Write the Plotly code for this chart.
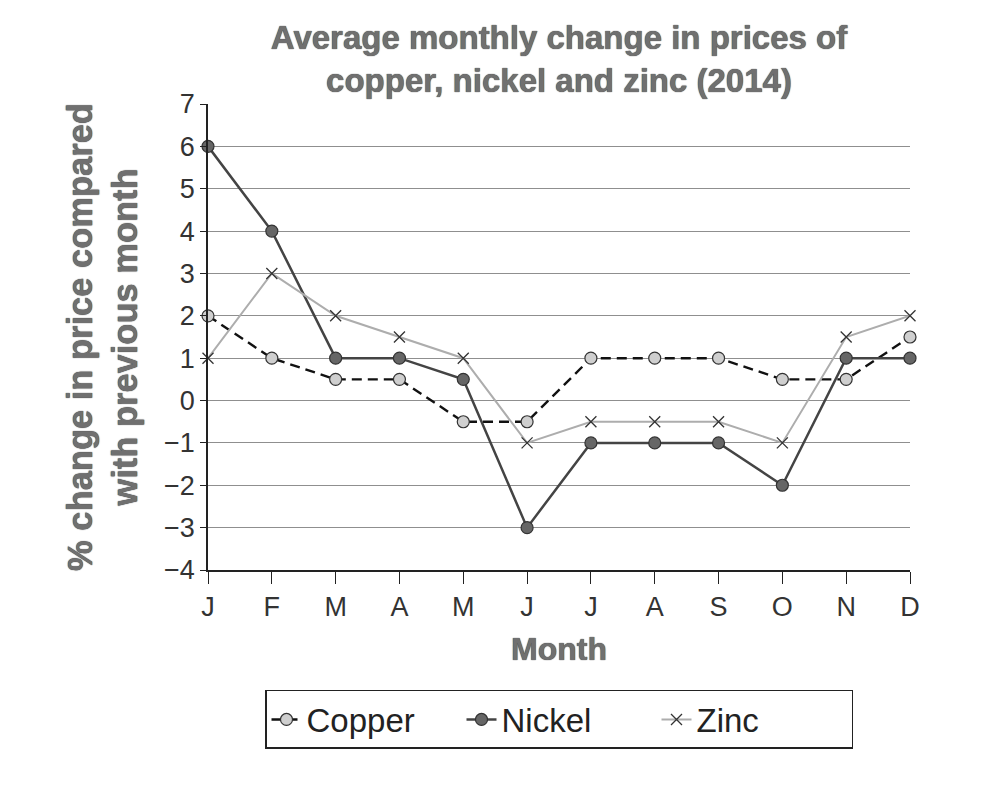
import plotly.graph_objects as go

months = ["J", "F", "M", "A", "M", "J", "J", "A", "S", "O", "N", "D"]
copper = [2, 1, 0.5, 0.5, -0.5, -0.5, 1, 1, 1, 0.5, 0.5, 1.5]
nickel = [6, 4, 1, 1, 0.5, -3, -1, -1, -1, -2, 1, 1]
zinc = [1, 3, 2, 1.5, 1, -1, -0.5, -0.5, -0.5, -1, 1.5, 2]
y_ticks = [-4, -3, -2, -1, 0, 1, 2, 3, 4, 5, 6, 7]

x = list(range(len(months)))

heading_font = dict(color="#707070", weight="bold", shadow="0px 0px 1px #111",
                    family="Liberation Sans, Arial, sans-serif")

fig = go.Figure()
fig.add_trace(go.Scatter(
    x=x, y=copper, name="Copper", mode="lines+markers", cliponaxis=False,
    line=dict(color="#111111", width=2.4, dash="10px,6px"),
    marker=dict(symbol="circle", size=12, color="#cfcfcf", line=dict(color="#333333", width=1.2)),
))
fig.add_trace(go.Scatter(
    x=x, y=nickel, name="Nickel", mode="lines+markers", cliponaxis=False,
    line=dict(color="#444444", width=2.5),
    marker=dict(symbol="circle", size=12, color="#666666", line=dict(color="#333333", width=1.2)),
))
fig.add_trace(go.Scatter(
    x=x, y=zinc, name="Zinc", mode="lines+markers", cliponaxis=False,
    line=dict(color="#adadad", width=2),
    marker=dict(symbol="x-thin", size=11, color="#333333", line=dict(color="#333333", width=1.3)),
))

fig.update_layout(
    width=989, height=786,
    paper_bgcolor="white", plot_bgcolor="white",
    margin=dict(l=200, r=87, t=96, b=224),
    font=dict(family="Liberation Sans, Arial, sans-serif", size=22, color="#222222"),
    title=dict(
        text="Average monthly change in prices of<br>copper, nickel and zinc (2014)",
        x=0.5, xref="paper", xanchor="center", y=0.948, yanchor="top",
        font=dict(size=33, **heading_font),
    ),
    xaxis=dict(
        tickmode="array", tickvals=x, ticktext=months, range=[0, 11],
        showgrid=False, zeroline=False, showline=True, linecolor="#222222", linewidth=1.5,
        ticks="outside", ticklen=12, tickcolor="#222222", tickwidth=1.2,
        tickfont=dict(size=27, color="#333333"),
        title=dict(text="Month", font=dict(size=32, **heading_font), standoff=16),
    ),
    yaxis=dict(
        tickmode="array", tickvals=y_ticks, range=[-4, 7],
        showgrid=True, gridcolor="#8f8f8f", gridwidth=1.3, zeroline=False,
        showline=True, linecolor="#222222", linewidth=1.5,
        ticks="outside", ticklen=6, tickcolor="#222222",
        tickfont=dict(size=27, color="#333333"),
        title=dict(text="% change in price compared<br>with previous month",
                   font=dict(size=34.5, **heading_font), standoff=16),
    ),
    legend=dict(
        orientation="h", x=0.5, xanchor="center", y=-0.2575, yanchor="top",
        bordercolor="#222222", borderwidth=1.5, bgcolor="white",
        font=dict(size=33, color="#222222"),
        entrywidth=150, entrywidthmode="pixels",
    ),
    showlegend=True,
)

fig.write_html("out.html")
